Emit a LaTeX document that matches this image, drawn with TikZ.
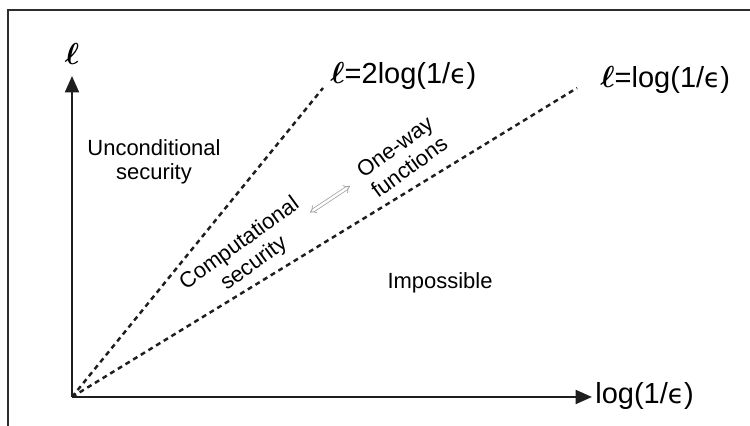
\documentclass[tikz,border=0pt]{standalone}
\usepackage{amsmath}
\usepackage{fontspec}
\setmainfont{Liberation Sans}
\newfontfamily\epsfont{DejaVu Sans}
\usepackage{xcolor}
\usepackage{tikz}
\usetikzlibrary{arrows.meta}
\definecolor{frameGray}{RGB}{45,45,45}
\definecolor{axisBlack}{RGB}{30,30,30}
\newcommand{\eps}{{\epsfont\fontsize{15}{18}\selectfont ϵ}}

\begin{document}
\begin{tikzpicture}[
  font=\fontsize{12.5}{14}\selectfont,
  region/.style={align=center, inner sep=1pt},
  eqlbl/.style={font=\fontsize{16.5}{19}\selectfont, inner sep=0pt},
  axis/.style={-{Triangle[length=3.3mm,width=2.8mm]}, line width=1.3pt, axisBlack},
  bound/.style={line width=1.4pt, dash pattern=on 2.8pt off 2.3pt, axisBlack},
  equiv/.style={{Implies}-{Implies}, double=white, double distance=1.4pt, draw=gray!80, thin}
]
\useasboundingbox (0,0) rectangle (15,8.52);
\draw[frameGray, line width=1.2pt] (0.16,-0.5) -- (0.16,8.32) -- (15.5,8.32);

\coordinate (o) at (1.44,0.58);
\coordinate (ytip) at (1.44,7.0);
\coordinate (xtip) at (11.84,0.58);
\coordinate (e1) at (6.46,6.76);
\coordinate (e2) at (11.54,6.76);

\draw[bound] (o) -- (e1);
\draw[bound] (o) -- (e2);
\draw[axis] (o) -- (ytip);
\draw[axis] (o) -- (xtip);

\node[eqlbl] (ell) at (1.44,7.44) {$\boldsymbol{\ell}$};
\node[eqlbl, anchor=west] (xlbl) at (11.9,0.6) {log(1/\eps)};
\node[eqlbl, anchor=west] (lbl1) at (6.6,7.0) {$\boldsymbol{\ell}$=2log(1/\eps)};
\node[eqlbl, anchor=west] (lbl2) at (12.0,6.92) {$\boldsymbol{\ell}$=log(1/\eps)};

\node[region] (uncond) at (3.08,5.28) {Unconditional\\security};
\node[region, rotate=36] (comp) at (4.94,3.44) {Computational\\security};
\node[region, rotate=36] (owf) at (8.04,5.38) {One-way\\functions};
\node[region] (imposs) at (8.8,2.86) {Impossible};

\coordinate (q1) at (6.2,4.27);
\coordinate (q2) at (7.0,4.8);
\draw[equiv] (q1) -- (q2);

\end{tikzpicture}
\end{document}
